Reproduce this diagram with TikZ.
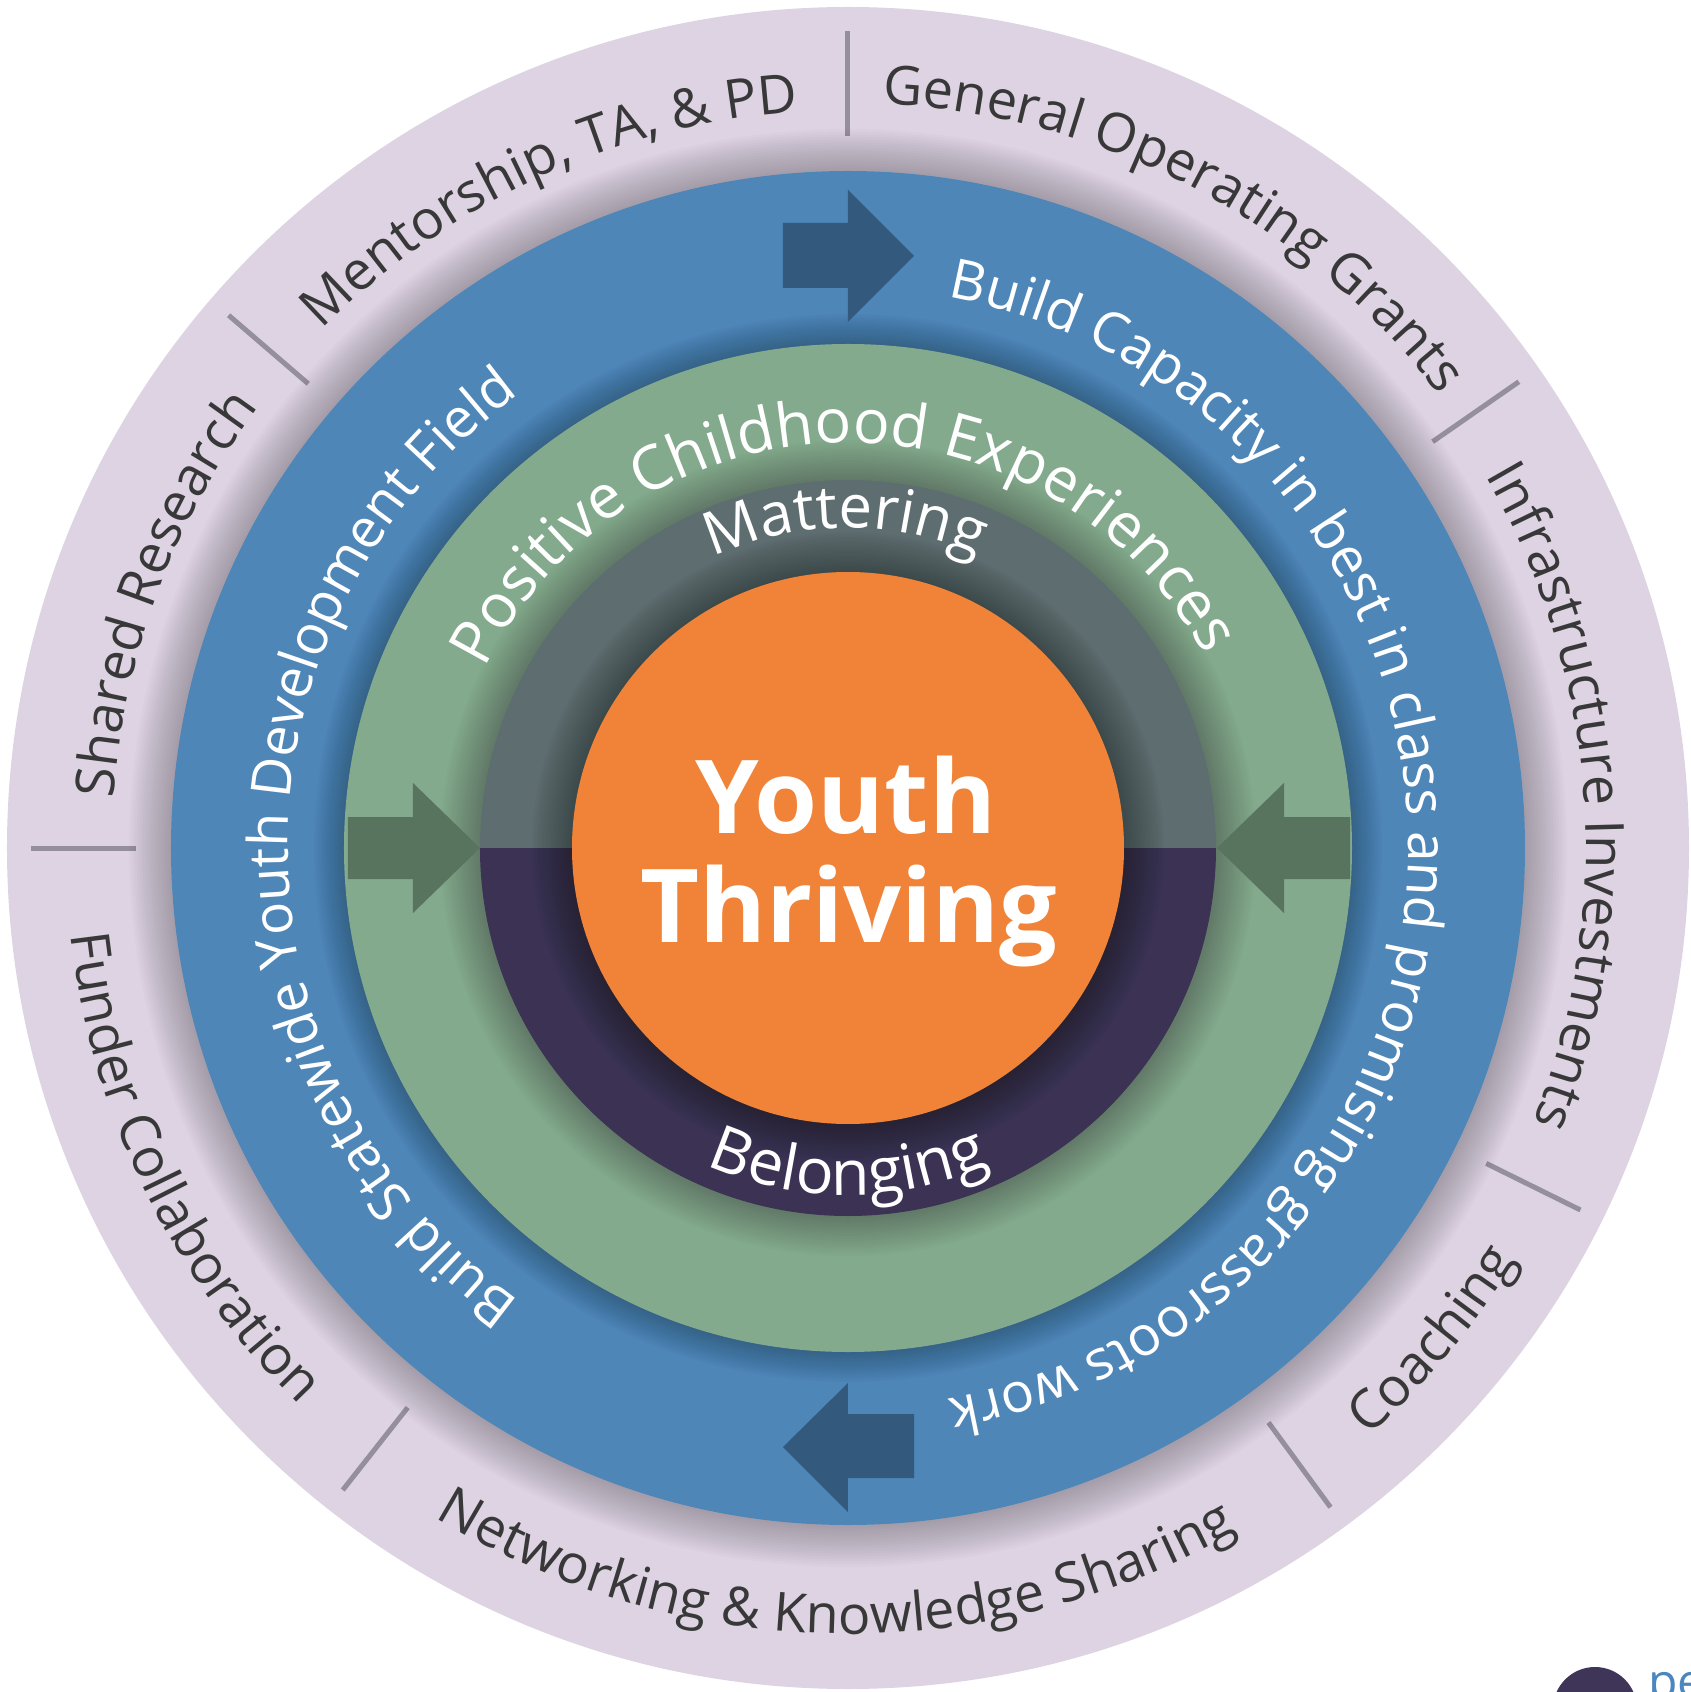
\documentclass[tikz,border=0pt]{standalone}
\usepackage{fontspec}
\setmainfont{Open Sans}
\usetikzlibrary{decorations.text}
\definecolor{lav}{HTML}{DDD3E3}
\definecolor{ringblue}{HTML}{4E86B8}
\definecolor{arrblue}{HTML}{33597D}
\definecolor{ringgreen}{HTML}{84AA8E}
\definecolor{arrgreen}{HTML}{58745F}
\definecolor{slate}{HTML}{5D6D70}
\definecolor{plum}{HTML}{3B3254}
\definecolor{orng}{HTML}{F08337}
\definecolor{sepgray}{HTML}{958E9C}
\definecolor{txtdark}{HTML}{383838}
\definecolor{logoblue}{HTML}{4A86BF}
\definecolor{logoplum}{HTML}{3F3559}
\newcommand{\outerfmt}{\fontsize{54}{54}\selectfont\color{txtdark}}
\newcommand{\bluefmt}{\fontsize{55}{55}\selectfont\color{white}}
\newcommand{\greenfmt}{\fontsize{61}{61}\selectfont\color{white}}
\newcommand{\darkfmt}{\fontsize{60}{60}\selectfont\color{white}}
\newcommand{\belongfmt}{\fontsize{63}{63}\selectfont\color{white}}
\newcommand{\ringshadow}[3]{\foreach \k in {1,...,16}{\fill[black,opacity=#3] (0,0) circle ({#1+#2*\k/16});}}
\tikzset{
  arctext/.style={decorate, decoration={text along path, text align=center, text={#1}}},
  seprule/.style={sepgray, line width=5pt},
  bluearrow/.style={fill=arrblue},
  greenarrow/.style={fill=arrgreen},
  centertext/.style={font=\fontsize{102}{102}\selectfont\bfseries, text=white, anchor=base, inner sep=0pt}
}
\begin{document}
\begin{tikzpicture}[x=1pt,y=1pt]
\useasboundingbox (-848,-844) rectangle (843,848);
\fill[white] (-848,-844) rectangle (843,848);
% outer ring
\fill[lav] (0,0) circle (841);
\foreach \a in {90,139.3,180,231.8,306.2,333.7,34.8}
  \draw[seprule] (\a:712) -- (\a:817);
\ringshadow{677}{42}{0.017}
% blue ring
\fill[ringblue] (0,0) circle (677);
\ringshadow{504}{30}{0.014}
\fill[bluearrow] (-65,560) -- (-65,625) -- (0,625) -- (0,658) -- (66,592) -- (0,526) -- (0,560) -- cycle;
\fill[bluearrow] (66,-566) -- (66,-630) -- (0,-630) -- (0,-664) -- (-65,-599) -- (0,-535) -- (0,-566) -- cycle;
% green ring
\fill[ringgreen] (0,0) circle (504);
\ringshadow{368}{40}{0.016}
\fill[greenarrow] (-500,31) -- (-435,31) -- (-435,65) -- (-368,0) -- (-435,-65) -- (-435,-31) -- (-500,-31) -- cycle;
\fill[greenarrow] (502,31) -- (436,31) -- (436,65) -- (369,0) -- (436,-65) -- (436,-31) -- (502,-31) -- cycle;
% dark ring
\fill[slate] (0,0) -- (0:368) arc[start angle=0, end angle=180, radius=368] -- cycle;
\fill[plum] (0,0) -- (180:368) arc[start angle=180, end angle=360, radius=368] -- cycle;
\ringshadow{276}{40}{0.018}
% centre
\fill[orng] (0,0) circle (276);
\node[centertext] (youth) at (-2,15) {Youth};
\node[centertext] (thriving) at (1,-94) {Thriving};
% outer texts
\path[arctext={|\outerfmt|General Operating Grants}] (90:745) arc[start angle=90, end angle=34.8, radius=745];
\path[arctext={|\outerfmt|Infrastructure Investments}] (34.8:738) arc[start angle=34.8, end angle=-26.3, radius=738];
\path[arctext={|\outerfmt|Coaching}] (-53.8:785) arc[start angle=-53.8, end angle=-26.3, radius=785];
\path[arctext={|\outerfmt|Networking {\&} Knowledge Sharing}] (231.8:786) arc[start angle=231.8, end angle=306.2, radius=786];
\path[arctext={|\outerfmt|Funder Collaboration}] (180:782) arc[start angle=180, end angle=231.8, radius=782];
\path[arctext={|\outerfmt|Shared Research}] (180:736) arc[start angle=180, end angle=139.3, radius=736];
\path[arctext={|\outerfmt|Mentorship, TA, {\&} PD}] (139.3:738) arc[start angle=139.3, end angle=90, radius=738];
% blue texts
\path[arctext={|\bluefmt|Build Capacity in best in class and promising grassroots work}] (85:560) arc[start angle=85, end angle=-85, radius=560];
\path[arctext={|\bluefmt|Build Statewide Youth Development Field}] (240:560) arc[start angle=240, end angle=120, radius=560];
% green text
\path[arctext={|\greenfmt|Positive Childhood Experiences}] (160:405) arc[start angle=160, end angle=22, radius=405];
% dark ring texts
\path[arctext={|\darkfmt|Mattering}] (130:320) arc[start angle=130, end angle=51, radius=320];
\path[arctext={|\belongfmt|Belonging}] (-130:347) arc[start angle=-130, end angle=-50, radius=347];
% logo fragment
\fill[logoplum] (747,-861) circle (42);
\node[anchor=base west, inner sep=0pt, text=logoblue, font=\fontsize{48}{48}\selectfont] (logo) at (800,-850) {pe};
\end{tikzpicture}
\end{document}
